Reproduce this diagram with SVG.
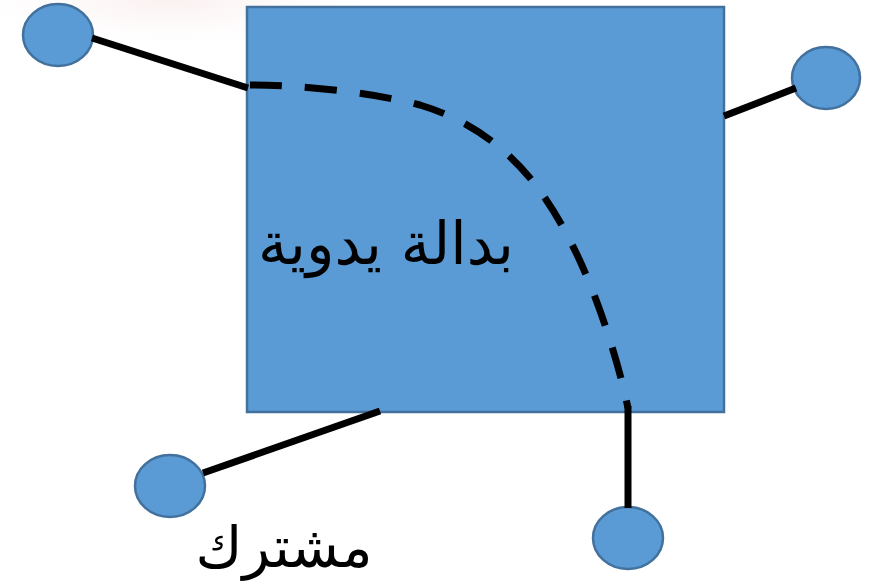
<svg xmlns="http://www.w3.org/2000/svg" width="892" height="584" viewBox="0 0 892 584">
<defs>
<radialGradient id="glow" cx="0.5" cy="0.5" r="0.5">
<stop offset="0" stop-color="#f6dede" stop-opacity="0.45"/>
<stop offset="1" stop-color="#fbeeee" stop-opacity="0"/>
</radialGradient>
</defs>
<style>
.node{fill:#5B9BD5;stroke:#41719C;stroke-width:2.5}
.wire{stroke:#000;stroke-width:7;fill:none}
.dash{stroke:#000;stroke-width:7;fill:none;stroke-dasharray:32 23}
.lbl{font-family:"DejaVu Sans","Noto Sans",sans-serif;fill:#000;text-anchor:middle;direction:rtl}
</style>
<rect width="892" height="584" fill="#fff"/>
<ellipse cx="170" cy="0" rx="190" ry="45" fill="url(#glow)"/>
<g id="switch">
<rect class="node" x="247" y="7" width="477" height="405"/>
<text class="lbl" x="386" y="264" font-size="59">بدالة يدوية</text>
</g>
<g id="sub1"><ellipse class="node" cx="58" cy="35" rx="35" ry="31"/></g>
<g id="sub2"><ellipse class="node" cx="826" cy="78" rx="34" ry="31"/></g>
<g id="sub3"><ellipse class="node" cx="170" cy="486" rx="35" ry="31"/>
<text class="lbl" x="284" y="567" font-size="57">مشترك</text></g>
<g id="sub4"><ellipse class="node" cx="628" cy="538" rx="35" ry="31"/></g>
<g id="connectors">
<line class="wire" x1="92" y1="38" x2="248" y2="88"/>
<line class="wire" x1="724" y1="116" x2="796" y2="88"/>
<line class="wire" x1="380" y1="411" x2="203" y2="473"/>
<line class="wire" x1="628" y1="406" x2="628" y2="508"/>
<path class="dash" d="M250,85 C300,85 370,92 420,105 C470,120 505,148 530,178 C560,215 585,265 605,325 C615,355 622,380 628,408"/>
</g>
</svg>
